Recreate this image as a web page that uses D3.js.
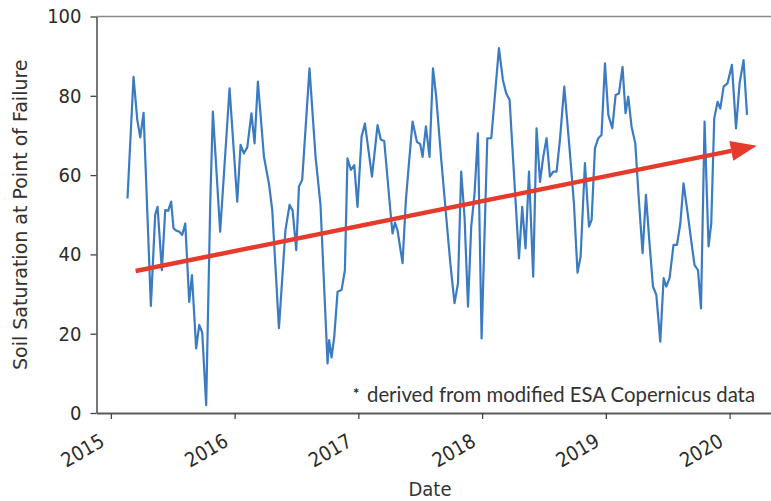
<!DOCTYPE html>
<html>
<head>
<meta charset="utf-8">
<script src="https://cdn.jsdelivr.net/npm/d3@7"></script>
<style>
  body { margin: 0; background: #fff; }
  .tick text { font-family: 'DejaVu Sans Condensed', 'DejaVu Sans', sans-serif; font-stretch: condensed; font-size: 20px; fill: #2b2b2b; }
</style>
</head>
<body>
<div id="viz"></div>
<script>

// sample dates as decimal years
var dates = [
  2015.134, 2015.183, 2015.213, 2015.237, 2015.264, 2015.323, 2015.358, 2015.377, 2015.412, 2015.439,
  2015.463, 2015.487, 2015.506, 2015.528, 2015.554, 2015.576, 2015.601, 2015.633, 2015.655, 2015.689,
  2015.714, 2015.738, 2015.770, 2015.803, 2015.824, 2015.883, 2015.959,
  2016.021, 2016.048, 2016.075, 2016.102, 2016.136, 2016.161, 2016.188, 2016.237, 2016.277, 2016.304,
  2016.358, 2016.411, 2016.444, 2016.469, 2016.498, 2016.520, 2016.546, 2016.605, 2016.654, 2016.694,
  2016.751, 2016.764, 2016.783, 2016.805, 2016.832, 2016.864, 2016.891, 2016.912, 2016.940, 2016.967, 2016.993,
  2017.026, 2017.053, 2017.110, 2017.155, 2017.182, 2017.209, 2017.263, 2017.276, 2017.296, 2017.317,
  2017.357, 2017.384, 2017.411, 2017.438, 2017.473, 2017.500, 2017.519, 2017.546, 2017.575, 2017.603,
  2017.629, 2017.670, 2017.710, 2017.743, 2017.777, 2017.805, 2017.831, 2017.858, 2017.886, 2017.912,
  2017.939, 2017.966, 2017.996,
  2018.042, 2018.074, 2018.136, 2018.168, 2018.195, 2018.222, 2018.298, 2018.324, 2018.351, 2018.379,
  2018.413, 2018.440, 2018.468, 2018.494, 2018.521, 2018.548, 2018.575, 2018.602, 2018.629, 2018.664,
  2018.710, 2018.742, 2018.771, 2018.796, 2018.831, 2018.864, 2018.885, 2018.912, 2018.939, 2018.965, 2018.993,
  2019.020, 2019.052, 2019.079, 2019.106, 2019.135, 2019.159, 2019.181, 2019.208, 2019.238, 2019.265,
  2019.297, 2019.324, 2019.353, 2019.381, 2019.408, 2019.440, 2019.467, 2019.488, 2019.515, 2019.547,
  2019.575, 2019.602, 2019.628, 2019.661, 2019.696, 2019.717, 2019.745, 2019.769, 2019.798, 2019.830,
  2019.852, 2019.876, 2019.903, 2019.925, 2019.952, 2019.984,
  2020.019, 2020.052, 2020.081, 2020.113, 2020.141
];

var saturation = [
  54.1, 84.8, 74, 69.5, 75.7, 27, 50, 52, 36, 51.2,
  51, 53.3, 46.6, 46, 45.7, 44.9, 47.8, 28, 34.8, 16.3,
  22.2, 20.3, 2, 53, 76, 45.7, 81.9,
  53.3, 67.6, 65.5, 67, 75.6, 68, 83.6, 64.6, 57.9, 51.2,
  21.4, 46.2, 52.5, 51, 41.1, 57.1, 58.8, 86.9, 64.6, 52.5,
  12.5, 18.4, 14, 19.2, 30.6, 31, 36, 64.2, 61.3, 62.5, 52,
  69.7, 73, 59.6, 72.6, 68.9, 68.6, 49.5, 45.3, 48, 46,
  37.8, 53.7, 63.8, 73.5, 68.4, 67.8, 64.6, 72.3, 64.6, 86.9,
  79.8, 63.8, 49.5, 37.8, 27.7, 32.7, 60.9, 49.5, 26.8, 47,
  55.4, 70.5, 18.8,
  69.3, 69.3, 92, 84, 80.6, 79, 39, 52, 41.5, 60.9,
  34.4, 71.8, 58.3, 64.6, 69.3, 59.6, 60.9, 60.9, 68.9, 82.3,
  65.5, 52.9, 35.4, 39.4, 63, 47, 48.7, 66.8, 69.3, 70.1, 88.2,
  75.2, 71.8, 80.2, 80.6, 87.3, 75.6, 79.8, 72.2, 68, 54.6,
  40.3, 55, 42.8, 31.9, 29.8, 18, 34, 31.9, 34, 42.4,
  42.4, 47.8, 57.9, 50.4, 42, 37.3, 36, 26.4, 73.5, 42,
  47.8, 74.3, 78.5, 76.8, 82.3, 83.2,
  87.8, 71.8, 83.2, 89, 75.2
];

var yearTicks = [2015, 2016, 2017, 2018, 2019, 2020];
var satTicks = [0, 20, 40, 60, 80, 100];

// hand drawn trend arrow (start, tip)
var trendYears = [2015.2, 2020.22];
var trendValues = [35.8, 67.4];

var width = 771, height = 501;
var margin = {top: 16.5, right: -7, bottom: 88, left: 96.5};

var svg = d3.select("#viz")
            .append("svg")
            .attr("width", width)
            .attr("height", height);

// matplotlib style 5% padding on the date axis
var ext = d3.extent(dates), pad = (ext[1] - ext[0]) * 0.05;

var x = d3.scaleLinear()
    .domain([ext[0] - pad, ext[1] + pad])
    .range([margin.left, width - margin.right]);

var y = d3.scaleLinear()
    .domain([0, 100])
    .range([height - margin.bottom, margin.top]);

var points = dates.map(function(d, i) { return {year: d, value: saturation[i]}; });

// top spine
svg.append("line")
    .attr("x1", x.range()[0]).attr("x2", x.range()[1])
    .attr("y1", y(100)).attr("y2", y(100))
    .style("stroke", "#8a8a8a")
    .style("stroke-width", 1.3);

var yAxis = svg.append("g")
    .attr("transform", "translate(" + margin.left + ",0)")
    .call(d3.axisLeft(y).tickValues(satTicks).tickSize(6).tickSizeOuter(0).tickPadding(9));

var xAxis = svg.append("g")
    .attr("transform", "translate(0," + y(0) + ")")
    .call(d3.axisBottom(x).tickValues(yearTicks).tickFormat(d3.format("d")).tickSize(6).tickSizeOuter(0));

xAxis.selectAll(".tick text")
    .attr("x", 0).attr("y", 0)
    .attr("dy", "0.35em")
    .attr("transform", "translate(-9,26) rotate(-30)")
    .style("text-anchor", "end");

yAxis.select(".domain").style("stroke", "#4a4a4a").style("stroke-width", 1.5);
xAxis.select(".domain").style("stroke", "#5a5a5a").style("stroke-width", 2.2);
svg.selectAll(".tick line").style("stroke", "#444").style("stroke-width", 1.3);

// series
var line = d3.line()
    .x(function(d) { return x(d.year); })
    .y(function(d) { return y(d.value); });

svg.append("path")
    .datum(points)
    .attr("d", line)
    .style("fill", "none")
    .style("stroke", "#3a7bc2")
    .style("stroke-width", 2.2)
    .style("stroke-linejoin", "round");

// trend arrow
var x0 = x(trendYears[0]), y0 = y(trendValues[0]),
    x1 = x(trendYears[1]), y1 = y(trendValues[1]);
var ang = Math.atan2(y1 - y0, x1 - x0),
    headLen = 26, headHalf = 10;
var bx = x1 - headLen * Math.cos(ang), by = y1 - headLen * Math.sin(ang);

svg.append("line")
    .attr("x1", x0).attr("y1", y0)
    .attr("x2", bx).attr("y2", by)
    .style("stroke", "#e63a2c")
    .style("stroke-width", 4.5);

svg.append("path")
    .attr("d", "M" + x1 + "," + y1 +
               "L" + (bx + headHalf * Math.sin(ang)) + "," + (by - headHalf * Math.cos(ang)) +
               "L" + (bx - headHalf * Math.sin(ang)) + "," + (by + headHalf * Math.cos(ang)) + "Z")
    .style("fill", "#e63a2c");

// labels
svg.append("text")
    .attr("transform", "translate(27," + ((y(0) + y(100)) / 2) + ") rotate(-90)")
    .style("text-anchor", "middle")
    .style("font-family", "'DejaVu Sans', sans-serif")
    .style("font-size", "19px")
    .style("fill", "#333")
    .text("Soil Saturation at Point of Failure");

svg.append("text")
    .attr("x", 430)
    .attr("y", 496)
    .style("text-anchor", "middle")
    .style("font-family", "'DejaVu Sans Condensed', 'DejaVu Sans', sans-serif")
    .style("font-stretch", "condensed")
    .style("font-size", "20px")
    .style("fill", "#333")
    .text("Date");

svg.append("text")
    .attr("x", 353)
    .attr("y", 399)
    .style("font-family", "Lato, sans-serif")
    .style("font-weight", "bold")
    .style("font-size", "15px")
    .style("fill", "#222")
    .text("*");

svg.append("text")
    .attr("x", 367)
    .attr("y", 402)
    .attr("textLength", 388)
    .attr("lengthAdjust", "spacingAndGlyphs")
    .style("font-family", "Lato, sans-serif")
    .style("font-size", "21px")
    .style("fill", "#333")
    .text("derived from modified ESA Copernicus data");

</script>
</body>
</html>
